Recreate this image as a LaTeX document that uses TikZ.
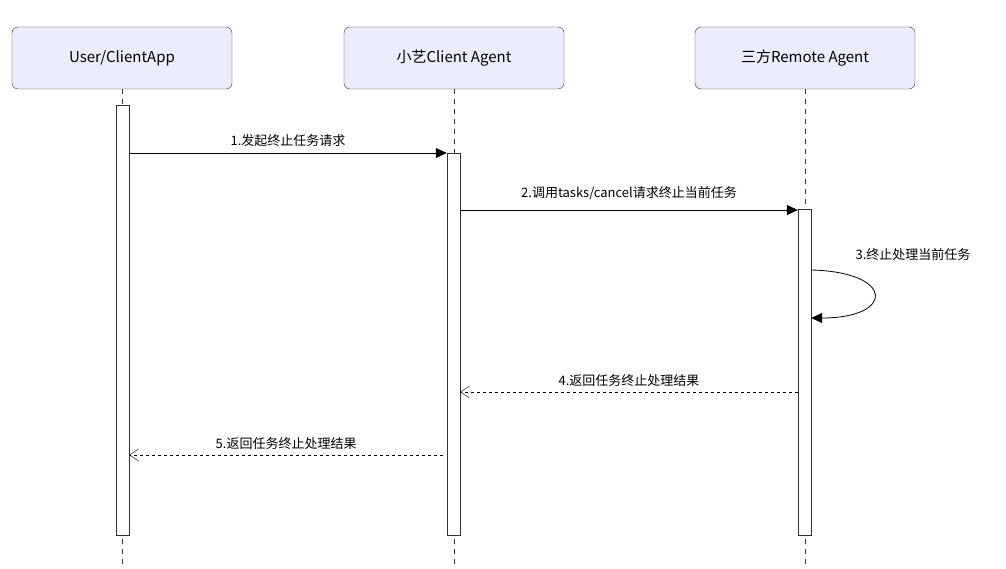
\documentclass[tikz,border=0pt]{standalone}
\usepackage{fontspec}
\setmainfont{Noto Sans CJK SC}
\usetikzlibrary{arrows.meta}
\definecolor{actorfill}{HTML}{ECECFF}
\definecolor{linegray}{HTML}{333333}
\tikzset{
	actor/.style={draw=linegray, fill=actorfill, rounded corners=6pt, minimum width=220pt, minimum height=62pt, font=\fontsize{15}{18}\selectfont},
	bar/.style={draw=linegray, fill=white, minimum width=13pt, inner sep=0pt},
	lifeline/.style={dashed, linegray, dash pattern=on 5pt off 5pt},
	call/.style={-{Triangle[length=11pt,width=10pt]}, black, thick},
	reply/.style={-{Straight Barb[length=9pt,width=12pt]}, black, dashed, dash pattern=on 3pt off 3pt},
	msg/.style={font=\fontsize{13}{15}\selectfont}
}
\begin{document}
\begin{tikzpicture}[x=1pt, y=-1pt]
	\useasboundingbox (0, 0) rectangle (1006, 569);

	% actors
	\node[actor] (user) at (122, 58) {User/ClientApp};
	\node[actor] (client) at (454, 58) {小艺Client Agent};
	\node[actor] (remote) at (805, 58) {三方Remote Agent};

	% lifelines
	\draw[lifeline] (user.south) to (122, 565);
	\draw[lifeline] (client.south) to (454, 565);
	\draw[lifeline] (remote.south) to (805, 565);

	% activations
	\node[bar, minimum height=430pt] (ubar) at (122.5, 320) {};
	\node[bar, minimum height=382pt] (cbar) at (453.5, 344) {};
	\node[bar, minimum height=326pt] (rbar) at (804.5, 372) {};

	% messages
	\coordinate (m1a) at (ubar.east |- 0, 153);
	\coordinate (m1b) at (cbar.west |- 0, 153);
	\draw[call] (m1a) to node[above=3pt, msg]{1.发起终止任务请求} (m1b);

	\coordinate (m2a) at (cbar.east |- 0, 210);
	\coordinate (m2b) at (rbar.west |- 0, 210);
	\draw[call] (m2a) to node[above=6pt, msg]{2.调用tasks/cancel请求终止当前任务} (m2b);

	\coordinate (m3a) at (rbar.east |- 0, 270);
	\coordinate (m3b) at (rbar.east |- 0, 318);
	\draw[call] (m3a) .. controls (895, 272) and (895, 318) .. (m3b);
	\node[msg] (m3) at (913, 255) {3.终止处理当前任务};

	\coordinate (m4a) at (rbar.west |- 0, 392);
	\coordinate (m4b) at (cbar.east |- 0, 392);
	\draw[reply] (m4a) to node[above=2pt, msg]{4.返回任务终止处理结果} (m4b);

	\coordinate (m5a) at (443, 455);
	\coordinate (m5b) at (ubar.east |- 0, 455);
	\draw[reply] (m5a) to node[above=2pt, msg]{5.返回任务终止处理结果} (m5b);
\end{tikzpicture}
\end{document}
